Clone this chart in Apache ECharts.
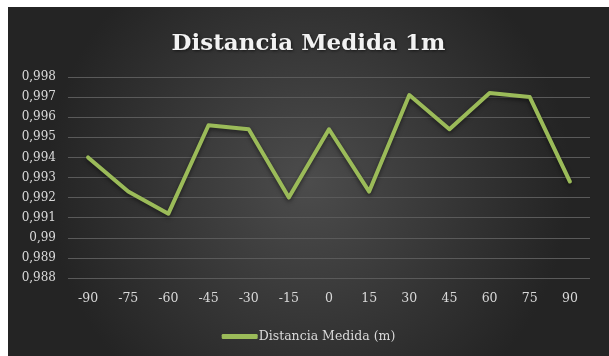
<!DOCTYPE html>
<html>
<head>
<meta charset="utf-8">
<script src="https://cdn.jsdelivr.net/npm/echarts@6/dist/echarts.min.js"></script>
<style>
  html, body { margin: 0; padding: 0; background: #ffffff; width: 609px; height: 356px; overflow: hidden; }
  #chart { position: absolute; left: 8px; top: 7px; width: 601px; height: 349px; }
</style>
</head>
<body>
<div id="chart"></div>
<script>
// Angles (degrees) along the x axis
const angles = ['-90', '-75', '-60', '-45', '-30', '-15', '0', '15', '30', '45', '60', '75', '90'];
// Measured distance at each angle (m)
const distancia = [0.9940, 0.9923, 0.9912, 0.9956, 0.9954, 0.9920, 0.9954, 0.9923, 0.9971, 0.9954, 0.9972, 0.9970, 0.9928];
const seriesName = 'Distancia Medida (m)';
const titleText = 'Distancia Medida 1m';

const chart = echarts.init(document.getElementById('chart'), null, { renderer: 'canvas' });

const serif = '"DejaVu Serif", "Liberation Serif", serif';

chart.setOption({
  animation: false,
  backgroundColor: {
    type: 'radial', x: 0.5, y: 0.5, r: 0.75,
    colorStops: [
      { offset: 0, color: '#4c4c4c' },
      { offset: 1, color: '#242424' }
    ]
  },
  title: {
    text: titleText,
    left: 'center',
    top: 21,
    textStyle: {
      fontFamily: serif,
      fontWeight: 'bold',
      fontSize: 23,
      color: '#f2f2f2',
      textShadowColor: 'rgba(0,0,0,0.6)',
      textShadowBlur: 3,
      textShadowOffsetX: 1,
      textShadowOffsetY: 1
    }
  },
  legend: {
    data: [seriesName],
    left: 'center',
    top: 318,
    icon: 'roundRect',
    itemWidth: 36,
    itemHeight: 5,
    itemGap: 0,
    textStyle: { fontFamily: serif, fontSize: 12.5, color: '#d9d9d9', padding: [0, 0, 0, -4] }
  },
  grid: { left: 60, top: 70, width: 522, height: 201, containLabel: false },
  xAxis: {
    type: 'category',
    data: angles,
    boundaryGap: true,
    axisLine: { show: false },
    axisTick: { show: false },
    axisLabel: { fontFamily: serif, fontSize: 12.5, color: '#d9d9d9', margin: 14 }
  },
  yAxis: {
    type: 'value',
    min: 0.988,
    max: 0.998,
    interval: 0.001,
    axisLine: { show: false },
    axisTick: { show: false },
    splitLine: { lineStyle: { color: '#5a5a5a', width: 1 } },
    axisLabel: {
      fontFamily: serif, fontSize: 12, color: '#d9d9d9', margin: 12,
      formatter: v => String(parseFloat(v.toFixed(3))).replace('.', ',')
    }
  },
  series: [{
    name: seriesName,
    type: 'line',
    data: distancia,
    symbol: 'none',
    lineStyle: {
      color: '#9bbb59', width: 4, cap: 'round', join: 'round',
      shadowColor: 'rgba(0,0,0,0.5)', shadowBlur: 4, shadowOffsetY: 2
    },
    itemStyle: { color: '#9bbb59' }
  }]
});
</script>
</body>
</html>
